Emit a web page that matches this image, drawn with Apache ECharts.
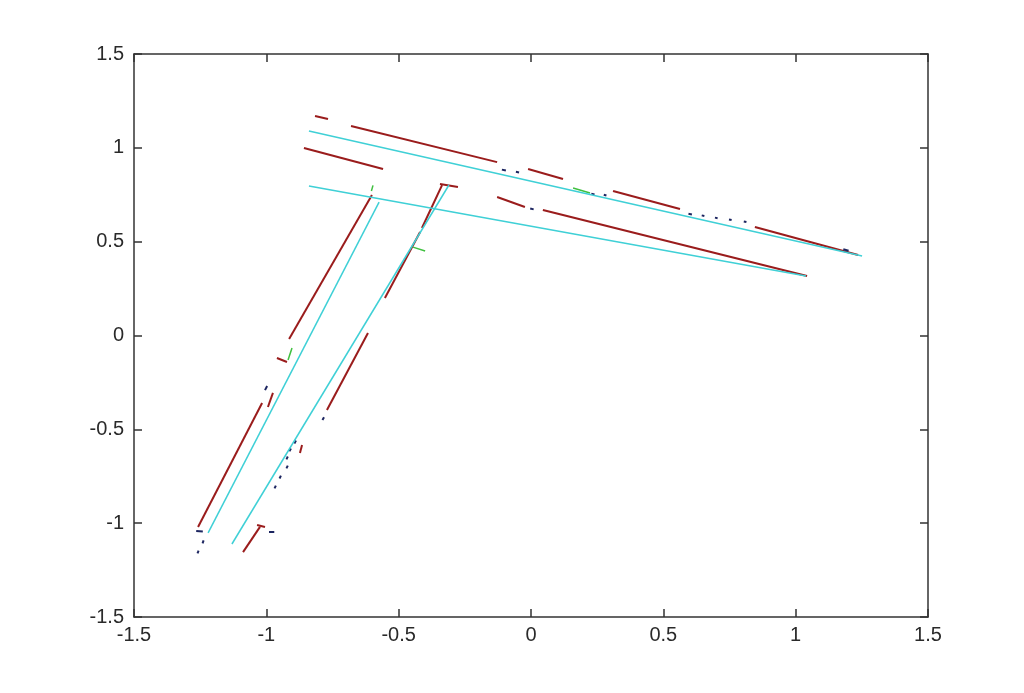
<!DOCTYPE html>
<html>
<head>
<meta charset="utf-8">
<script src="https://cdn.jsdelivr.net/npm/echarts@6/dist/echarts.min.js"></script>
<style>
html,body{margin:0;padding:0;background:#fff;}
#chart{width:1024px;height:693px;}
</style>
</head>
<body>
<div id="chart"></div>
<script>
// Axis ranges / ticks
const xMin = -1.5, xMax = 1.5, xStep = 0.5;
const yMin = -1.5, yMax = 1.5, yStep = 0.5;

// Fitted wall lines (cyan)
const cyanLines = [
  [[-0.839, 1.090], [1.251, 0.424]],
  [[-0.839, 0.797], [1.039, 0.317]],
  [[-0.574, 0.711], [-1.220, -1.052]],
  [[-0.310, 0.802], [-1.130, -1.111]]
];

// Scan segments (dark red)
const redSegments = [
  [[-0.816, 1.170], [-0.767, 1.154]],
  [[-0.680, 1.116], [-0.128, 0.924]],
  [[-0.011, 0.887], [0.121, 0.834]],
  [[0.310, 0.770], [0.563, 0.674]],
  [[0.846, 0.578], [1.236, 0.429]],
  [[-0.858, 0.999], [-0.559, 0.887]],
  [[-0.128, 0.738], [-0.023, 0.685]],
  [[0.045, 0.669], [1.043, 0.317]],
  [[-0.601, 0.749], [-0.914, -0.019]],
  [[-0.960, -0.120], [-0.922, -0.141]],
  [[-1.016, -0.360], [-1.258, -1.020]],
  [[-0.975, -0.306], [-0.994, -0.381]],
  [[-0.344, 0.807], [-0.276, 0.791]],
  [[-0.336, 0.801], [-0.412, 0.573]],
  [[-0.419, 0.551], [-0.552, 0.200]],
  [[-0.616, 0.013], [-0.771, -0.397]],
  [[-0.865, -0.583], [-0.873, -0.626]],
  [[-1.024, -1.020], [-1.088, -1.154]],
  [[-1.035, -1.010], [-1.005, -1.020]]
];

// Short dark (navy) fragments
const darkSegments = [
  [[-0.110, 0.884], [-0.095, 0.879]],
  [[-0.057, 0.873], [-0.045, 0.869]],
  [[0.228, 0.756], [0.240, 0.752]],
  [[0.275, 0.750], [0.285, 0.746]],
  [[0.595, 0.649], [0.608, 0.645]],
  [[0.645, 0.640], [0.655, 0.637]],
  [[0.695, 0.628], [0.705, 0.625]],
  [[0.748, 0.618], [0.758, 0.615]],
  [[0.804, 0.608], [0.814, 0.605]],
  [[1.180, 0.460], [1.200, 0.452]],
  [[-0.003, 0.677], [0.010, 0.672]],
  [[-1.005, -0.291], [-0.997, -0.269]],
  [[-0.788, -0.450], [-0.782, -0.435]],
  [[-0.894, -0.575], [-0.888, -0.560]],
  [[-0.913, -0.617], [-0.907, -0.602]],
  [[-0.924, -0.660], [-0.919, -0.645]],
  [[-0.924, -0.708], [-0.919, -0.693]],
  [[-0.950, -0.762], [-0.945, -0.747]],
  [[-0.969, -0.815], [-0.964, -0.800]],
  [[-1.265, -1.042], [-1.240, -1.045]],
  [[-1.241, -1.108], [-1.237, -1.092]],
  [[-1.260, -1.161], [-1.256, -1.146]],
  [[-0.990, -1.044], [-0.970, -1.044]]
];

// Short green fragments
const greenSegments = [
  [[0.159, 0.786], [0.223, 0.759]],
  [[-0.918, -0.131], [-0.903, -0.067]],
  [[-0.603, 0.770], [-0.597, 0.800]],
  [[-0.446, 0.471], [-0.400, 0.450]]
];

const axisColor = '#333';
const textStyle = {color: '#2a2a2a', fontFamily: 'Liberation Sans, Arial, sans-serif', fontSize: 20};

function mkSeries(segs, color, width) {
  return {
    type: 'lines',
    coordinateSystem: 'cartesian2d',
    xAxisIndex: 0, yAxisIndex: 0,
    silent: true,
    lineStyle: {color: color, width: width, opacity: 1},
    data: segs.map(s => ({coords: s}))
  };
}

const chart = echarts.init(document.getElementById('chart'), null, {renderer: 'canvas'});
const baseAxis = {
  type: 'value',
  splitLine: {show: false},
  axisLine: {show: true, onZero: false, lineStyle: {color: axisColor, width: 1.5}},
  axisTick: {show: true, inside: true, length: 8, lineStyle: {color: axisColor, width: 1.5}}
};
chart.setOption({
  animation: false,
  backgroundColor: '#fff',
  grid: {left: 134, right: 96, top: 54, bottom: 76, containLabel: false},
  xAxis: [
    Object.assign({}, baseAxis, {position: 'bottom', min: xMin, max: xMax, interval: xStep,
      axisLabel: Object.assign({margin: 8}, textStyle)}),
    Object.assign({}, baseAxis, {position: 'top', min: xMin, max: xMax, interval: xStep,
      axisLabel: {show: false}})
  ],
  yAxis: [
    Object.assign({}, baseAxis, {position: 'left', min: yMin, max: yMax, interval: yStep,
      axisLabel: Object.assign({margin: 10}, textStyle)}),
    Object.assign({}, baseAxis, {position: 'right', min: yMin, max: yMax, interval: yStep,
      axisLabel: {show: false}})
  ],
  series: [
    mkSeries(redSegments, '#9a1c1c', 2),
    mkSeries(darkSegments, '#1c2560', 2),
    mkSeries(greenSegments, '#40c040', 1.5),
    mkSeries(cyanLines, '#3fd0d6', 1.5)
  ]
});
</script>
</body>
</html>
